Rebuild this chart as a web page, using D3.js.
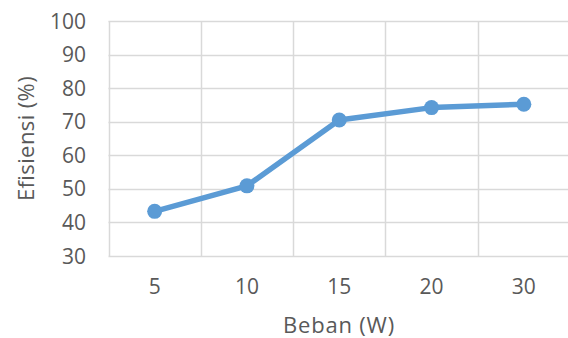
<!DOCTYPE html>
<html>
<head>
<meta charset="utf-8">
<script src="https://cdn.jsdelivr.net/npm/d3@7"></script>
<style>
  html, body { margin: 0; padding: 0; background: #fff; }
  svg { display: block; }
</style>
</head>
<body>
<svg id="chart" width="568" height="338"></svg>
<script>
// Load (W) on the x axis, efficiency (%) on the y axis
const categories = ["5", "10", "15", "20", "30"];
const efficiency = [43.3, 50.9, 70.5, 74.2, 75.2];
const yTicks = [30, 40, 50, 60, 70, 80, 90, 100];

const svg = d3.select("#chart");
const margin = { left: 108.5, top: 21, right: -2, bottom: 82 };
const W = 568, H = 338;
const x0 = margin.left, x1 = W - margin.right;
const y0 = H - margin.bottom, y1 = margin.top;

const x = d3.scaleBand().domain(categories).range([x0, x1]);
const y = d3.scaleLinear().domain([30, 100]).range([y0, y1]);

const font = "'Open Sans', 'Noto Sans', sans-serif";
const textColor = "#595959";
const gridColor = "#d9d9d9";

// horizontal gridlines
svg.append("g")
  .selectAll("line")
  .data(yTicks)
  .join("line")
  .attr("x1", x0).attr("x2", x1)
  .attr("y1", d => Math.round(y(d)) + 0.5)
  .attr("y2", d => Math.round(y(d)) + 0.5)
  .attr("stroke", gridColor).attr("stroke-width", 1.5);

// vertical gridlines at band boundaries
const boundaries = categories.map(c => x(c)).concat([x1]);
svg.append("g")
  .selectAll("line")
  .data(boundaries)
  .join("line")
  .attr("x1", d => Math.round(d) + 0.5).attr("x2", d => Math.round(d) + 0.5)
  .attr("y1", y1).attr("y2", y0)
  .attr("stroke", gridColor).attr("stroke-width", 1.5);

// y tick labels
svg.append("g")
  .selectAll("text")
  .data(yTicks)
  .join("text")
  .attr("x", 86)
  .attr("y", d => y(d))
  .attr("dy", "0.36em")
  .attr("text-anchor", "end")
  .attr("font-family", font).attr("font-size", 21)
  .attr("fill", textColor)
  .text(d => d);

// x tick labels
svg.append("g")
  .selectAll("text")
  .data(categories)
  .join("text")
  .attr("x", d => x(d) + x.bandwidth() / 2)
  .attr("y", 293.5)
  .attr("text-anchor", "middle")
  .attr("font-family", font).attr("font-size", 21)
  .attr("fill", textColor)
  .text(d => d);

// axis titles
svg.append("text")
  .attr("x", 339).attr("y", 333)
  .attr("text-anchor", "middle")
  .attr("font-family", font).attr("font-size", 22)
  .attr("letter-spacing", 0.8)
  .attr("fill", textColor)
  .text("Beban (W)");

svg.append("text")
  .attr("transform", `translate(34, ${(y0 + y1) / 2}) rotate(-90)`)
  .attr("text-anchor", "middle")
  .attr("font-family", font).attr("font-size", 22)
  .attr("letter-spacing", 0.4)
  .attr("fill", textColor)
  .text("Efisiensi (%)");

// data line and markers
const blue = "#5b9bd5";
const pts = categories.map((c, i) => [x(c) + x.bandwidth() / 2, y(efficiency[i])]);

svg.append("path")
  .attr("d", d3.line()(pts))
  .attr("fill", "none")
  .attr("stroke", blue)
  .attr("stroke-width", 5.5)
  .attr("stroke-linejoin", "round")
  .attr("stroke-linecap", "round");

svg.append("g")
  .selectAll("circle")
  .data(pts)
  .join("circle")
  .attr("cx", d => d[0]).attr("cy", d => d[1])
  .attr("r", 7.5)
  .attr("fill", blue);
</script>
</body>
</html>
